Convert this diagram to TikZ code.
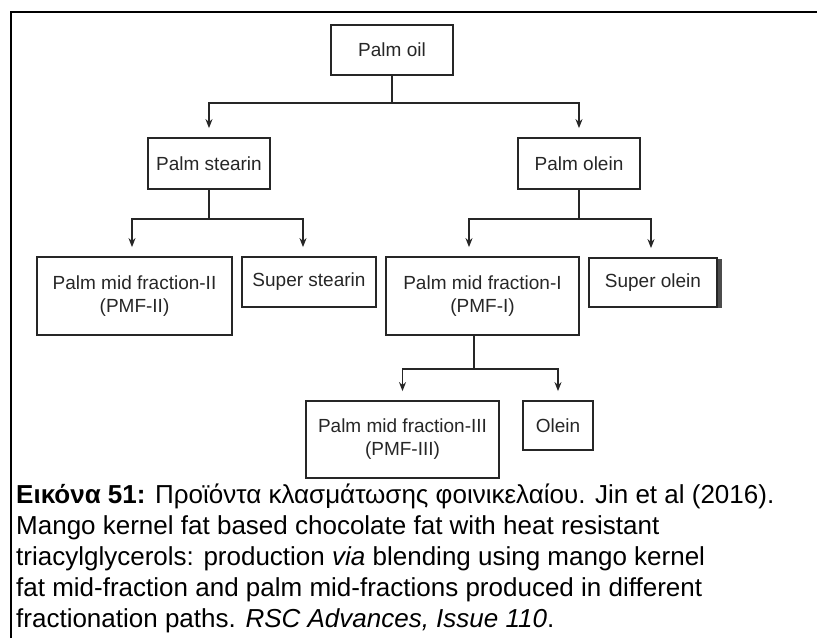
\documentclass[tikz,border=0pt]{standalone}
\usepackage{fontspec}
\setmainfont{Liberation Sans}
\usetikzlibrary{arrows.meta}
\definecolor{ink}{gray}{0.15}
\begin{document}
\begin{tikzpicture}[x=1pt,y=-1pt,
  box/.style={draw=ink, line width=1.8pt, text=ink, inner sep=0pt,
    font=\fontsize{19}{23}\selectfont, align=center},
  conn/.style={draw=ink, line width=1.5pt},
  arr/.style={conn, -{Stealth[length=9pt,width=7pt]}, shorten >=9pt},
  captext/.style={anchor=base west, inner sep=0pt, font=\fontsize{26}{31}\selectfont}]
\useasboundingbox (0,0) rectangle (817,638);
% frame
\draw[line width=2.2pt] (11,638) -- (11,12) -- (817,12);
% boxes
\node[box, minimum width=122pt, minimum height=50pt] (po) at (392,50) {Palm oil};
\node[box, minimum width=122pt, minimum height=51pt] (ps) at (209,163.5) {Palm stearin};
\node[box, minimum width=122pt, minimum height=51pt] (pol) at (579,163.5) {Palm olein};
\node[box, minimum width=195pt, minimum height=78pt] (pmf2) at (134.5,296) {Palm mid fraction-II\\(PMF-II)};
\node[box, minimum width=134pt, minimum height=50pt] (sst) at (309,282) {Super stearin};
\node[box, minimum width=193pt, minimum height=78pt] (pmf1) at (482.5,296) {Palm mid fraction-I\\(PMF-I)};
\node[box, minimum width=128pt, minimum height=49pt] (sol) at (653,282.5) {Super olein};
\node[box, minimum width=193pt, minimum height=77pt] (pmf3) at (402.5,439.5) {Palm mid fraction-III\\(PMF-III)};
\node[box, minimum width=70pt, minimum height=49pt] (ol) at (558,425.5) {Olein};
\draw[gray!60!black, line width=4pt] ([xshift=2pt,yshift=-2pt]sol.north east) -- ([xshift=2pt]sol.south east);
% connectors
\coordinate (j1) at (392,103);
\draw[conn] (po.south) -- (j1);
\draw[arr] (j1) -| (ps.north);
\draw[arr] (j1) -| (pol.north);
\coordinate (j2) at (209,219);
\draw[conn] (ps.south) -- (j2);
\draw[arr] (j2) -| ([xshift=-2.5pt]pmf2.north);
\draw[arr] (j2) -| ([xshift=-6pt]sst.north);
\coordinate (j3) at (579,219);
\draw[conn] (pol.south) -- (j3);
\draw[arr] (j3) -| ([xshift=-13.5pt]pmf1.north);
\draw[arr] (j3) -| ([xshift=-2pt]sol.north);
\coordinate (j4) at (474,369);
\draw[conn] ([xshift=-8.5pt]pmf1.south) -- (j4);
\draw[arr] (j4) -| (pmf3.north);
\draw[arr] (j4) -| (ol.north);
% caption
\node[captext] (c1) at (16,503) {\textbf{Εικόνα 51:} Προϊόντα κλασμάτωσης φοινικελαίου. Jin et al (2016).};
\node[captext] (c2) at (16,534) {Mango kernel fat based chocolate fat with heat resistant};
\node[captext] (c3) at (16,565) {triacylglycerols: production \textit{via} blending using mango kernel};
\node[captext] (c4) at (16,596) {fat mid-fraction and palm mid-fractions produced in different};
\node[captext] (c5) at (16,627) {fractionation paths. \textit{RSC Advances, Issue 110}.};
\end{tikzpicture}
\end{document}
